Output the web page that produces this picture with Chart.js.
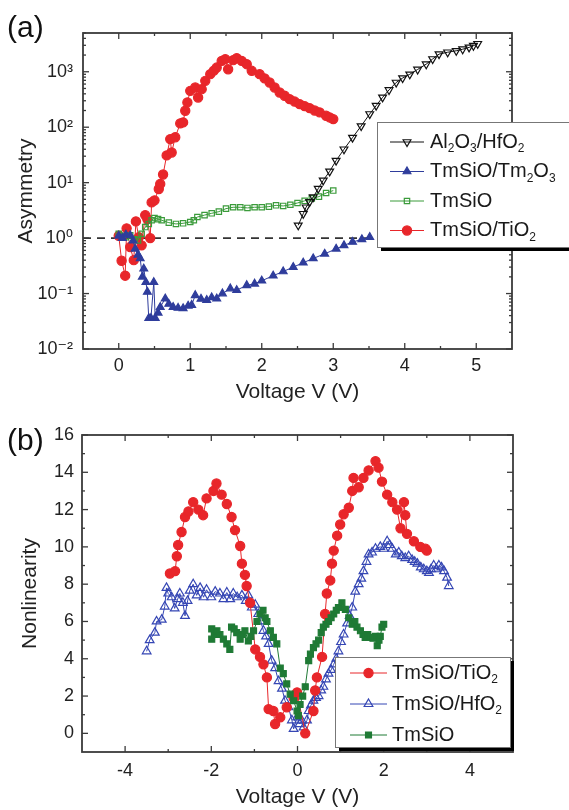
<!DOCTYPE html>
<html>
<head>
<meta charset="utf-8">
<script src="https://cdn.jsdelivr.net/npm/chart.js@4.4.1/dist/chart.umd.min.js"></script>
<style>
  html, body { margin: 0; padding: 0; background: #fff; }
  #wrap { position: relative; width: 569px; height: 810px; overflow: hidden; }
  .panel { position: absolute; left: 0; width: 569px; height: 405px; }
  .tag { position: absolute; left: 7px; font: 30px 'Liberation Sans', Arial, sans-serif; color: #111; }
</style>
</head>
<body>
<div id="wrap">
  <div class="panel" style="top:0"><canvas id="chartA"></canvas></div>
  <div class="panel" style="top:405px"><canvas id="chartB"></canvas></div>
  <div class="tag" style="top:10px">(a)</div>
  <div class="tag" style="top:423px">(b)</div>
</div>
<script>
const FONT = "'Liberation Sans', 'DejaVu Sans', Arial, sans-serif";

// ---- (a) asymmetry vs voltage ----
const labelsA = ['Al₂O₃/HfO₂', 'TmSiO/Tm₂O₃', 'TmSiO', 'TmSiO/TiO₂'];

const voltAl = [2.51, 2.58, 2.62, 2.67, 2.72, 2.79, 2.86, 2.95, 3.04, 3.15, 3.27, 3.39, 3.51, 3.6, 3.69, 3.78, 3.88, 3.97, 4.07, 4.18, 4.3, 4.39, 4.48, 4.6, 4.72, 4.81, 4.9, 4.96, 5.02];
const asymAl = [1.7, 2.75, 3.6, 4.5, 5.5, 7.8, 11, 16, 25, 40, 65, 105, 173, 245, 345, 470, 640, 770, 900, 1100, 1370, 1700, 2080, 2250, 2390, 2550, 2750, 2950, 3200];

const voltTm = [0, 0.05, 0.1, 0.16, 0.2, 0.23, 0.27, 0.30, 0.33, 0.35, 0.38, 0.40, 0.42, 0.45, 0.49, 0.51, 0.55, 0.58, 0.65, 0.7, 0.76, 0.83, 0.90, 0.97, 1.02, 1.07, 1.15, 1.23, 1.30, 1.37, 1.45, 1.56, 1.65, 1.79, 1.9, 2.0, 2.16, 2.3, 2.44, 2.58, 2.72, 2.88, 3.04, 3.15, 3.27, 3.4, 3.51];
const asymTm = [1.1, 1.0, 1.15, 1.12, 0.9, 0.64, 0.5, 0.43, 0.2, 0.28, 0.16, 0.107, 0.036, 0.036, 0.16, 0.036, 0.045, 0.057, 0.081, 0.065, 0.057, 0.055, 0.054, 0.06, 0.062, 0.093, 0.08, 0.076, 0.085, 0.081, 0.1, 0.123, 0.115, 0.141, 0.15, 0.17, 0.21, 0.25, 0.30, 0.36, 0.43, 0.52, 0.64, 0.74, 0.85, 0.95, 1.04];

const voltSiA = [0, 0.05, 0.1, 0.16, 0.22, 0.27, 0.32, 0.37, 0.42, 0.46, 0.5, 0.55, 0.6, 0.7, 0.8, 0.9, 1.0, 1.05, 1.1, 1.2, 1.3, 1.4, 1.5, 1.6, 1.7, 1.8, 1.9, 2.0, 2.1, 2.2, 2.3, 2.4, 2.5, 2.6, 2.7, 2.8, 2.9, 3.0];
const asymSiA = [1.2, 1.1, 1.04, 1.12, 0.95, 0.91, 1.2, 1.58, 1.8, 2.1, 2.3, 2.2, 2.1, 1.9, 1.8, 1.85, 1.95, 2.1, 2.4, 2.6, 2.8, 3.0, 3.4, 3.6, 3.6, 3.5, 3.6, 3.6, 3.7, 3.9, 3.8, 4.0, 4.3, 4.7, 5.2, 5.6, 6.5, 7.2];

const voltTiA = [0, 0.04, 0.09, 0.11, 0.16, 0.21, 0.24, 0.28, 0.32, 0.37, 0.40, 0.44, 0.46, 0.50, 0.56, 0.58, 0.62, 0.67, 0.72, 0.74, 0.79, 0.86, 0.90, 0.93, 0.96, 1.0, 1.07, 1.11, 1.16, 1.21, 1.28, 1.33, 1.37, 1.44, 1.49, 1.53, 1.60, 1.65, 1.72, 1.79, 1.86, 1.97, 2.04, 2.11, 2.18, 2.25, 2.32, 2.39, 2.46, 2.53, 2.60, 2.67, 2.74, 2.81, 2.90, 2.95, 3.0];
const asymTiA = [1.1, 0.39, 0.21, 1.5, 0.69, 0.40, 2.0, 1.04, 0.74, 2.6, 2.2, 1.0, 4.4, 4.8, 7.7, 9.5, 14, 31, 61, 35, 66, 117, 122, 198, 280, 453, 520, 344, 486, 686, 905, 1050, 1190, 1570, 1690, 1110, 1620, 1760, 1570, 1370, 1040, 905, 760, 640, 520, 423, 370, 321, 290, 261, 240, 221, 200, 185, 161, 150, 140];

const unityLine = [-0.5, 5.5];
const ticksAX = [0, 1, 2, 3, 4, 5];
const ticksAY = [0.01, 0.1, 1, 10, 100, 1000];

// ---- (b) nonlinearity vs voltage ----
const labelsB = ['TmSiO/TiO₂', 'TmSiO/HfO₂', 'TmSiO'];

const voltTiB = [-2.96, -2.84, -2.8, -2.77, -2.69, -2.61, -2.53, -2.42, -2.3, -2.19, -2.11, -1.95, -1.88, -1.76, -1.64, -1.53, -1.45, -1.33, -1.29, -1.22, -1.18, -1.1, -0.98, -0.87, -0.79, -0.71, -0.67, -0.56, -0.52, -0.4, -0.25, -0.09, -0.01,
  0.18, 0.37, 0.41, 0.45, 0.57, 0.64, 0.68, 0.76, 0.8, 0.84, 0.92, 0.99, 1.07, 1.19, 1.27, 1.3, 1.42, 1.53, 1.65, 1.81, 1.88, 1.96, 2.08, 2.2, 2.31, 2.39, 2.47, 2.5, 2.54, 2.7, 2.85, 2.97, 3.0];
const nonlTiB = [8.57, 8.7, 9.5, 10.1, 10.8, 11.6, 11.9, 12.4, 12.0, 11.7, 12.6, 13.0, 13.4, 12.8, 12.3, 11.6, 10.9, 10.05, 9.1, 8.5, 7.9, 7.0, 4.5, 4.1, 3.7, 3.0, 1.3, 1.2, 0.5, 0.86, 1.4, 1.9, 2.2,
  0, 1.2, 2.3, 3.0, 4.1, 6.4, 7.5, 8.2, 9.1, 9.8, 10.6, 11.2, 11.75, 12.1, 13.0, 13.7, 13.2, 13.7, 14.1, 14.6, 14.25, 13.5, 12.8, 12.4, 12.0, 11.0, 12.4, 11.7, 10.7, 10.3, 10.0, 9.9, 9.8];

const voltHfB = [-3.5, -3.43, -3.31, -3.27, -3.15, -3.08, -3.04, -3.0, -2.92, -2.85, -2.78, -2.73, -2.66, -2.61, -2.55, -2.5, -2.42, -2.34, -2.26, -2.18, -2.11, -2.0, -1.91, -1.8, -1.72, -1.64, -1.56, -1.49, -1.4, -1.29, -1.2, -1.14, -1.06, -0.98, -0.91, -0.85, -0.79, -0.73, -0.67, -0.6, -0.52, -0.44, -0.36, -0.29, -0.21, -0.13, -0.09, -0.01,
  0.05, 0.1, 0.14, 0.22, 0.26, 0.31, 0.37, 0.43, 0.49, 0.55, 0.6, 0.66, 0.72, 0.78, 0.84, 0.9, 0.95, 1.01, 1.07, 1.15, 1.21, 1.27, 1.34, 1.42, 1.48, 1.53, 1.6, 1.65, 1.73, 1.81, 1.92, 2.0, 2.08, 2.14, 2.2, 2.28, 2.35, 2.42, 2.5, 2.58, 2.66, 2.72, 2.78, 2.86, 2.93, 3.0, 3.05, 3.1, 3.16, 3.22, 3.28, 3.34, 3.4, 3.47, 3.51];
const nonlHfB = [4.4, 5.0, 5.4, 6.0, 6.1, 6.8, 7.8, 7.5, 7.3, 6.7, 7.2, 7.5, 7.0, 6.3, 7.1, 7.65, 8.0, 7.4, 7.8, 7.3, 7.7, 7.3, 7.6, 7.5, 7.2, 7.55, 7.2, 7.5, 7.3, 7.4, 7.1, 7.4, 6.75, 6.9, 6.4, 6.0, 5.5, 5.2, 4.8, 3.9, 3.5, 2.8, 2.4, 1.75, 1.4, 0.7, 0.24, 0.86,
  0.5, 0.68, 0.32, 0.7, 1.2, 1.5, 1.75, 1.9, 2.0, 2.3, 2.5, 2.9, 3.2, 3.4, 3.7, 4.0, 4.4, 4.9, 5.3, 5.9, 6.3, 6.75, 7.6, 8.0, 8.3, 8.7, 9.2, 9.6, 9.7, 9.9, 10.0, 9.9, 10.3, 10.1, 9.9, 9.6, 9.7, 9.5, 9.4, 9.5, 9.3, 9.2, 9.1, 8.9, 8.8, 8.7, 8.6, 8.8, 9.0, 8.8, 9.0, 8.9, 8.7, 8.35, 7.9];

const voltSiB = [-1.99, -1.99, -1.93, -1.87, -1.8, -1.72, -1.64, -1.57, -1.53, -1.47, -1.41, -1.33, -1.27, -1.22, -1.14, -1.08, -1.02, -0.94, -0.87, -0.8, -0.75, -0.71, -0.63, -0.56, -0.48, -0.4, -0.33, -0.25, -0.17, -0.09, -0.01,
  0.02, 0.06, 0.12, 0.18, 0.26, 0.3, 0.37, 0.43, 0.49, 0.55, 0.6, 0.66, 0.72, 0.78, 0.84, 0.9, 0.95, 1.03, 1.11, 1.19, 1.27, 1.33, 1.38, 1.46, 1.52, 1.57, 1.63, 1.69, 1.75, 1.81, 1.85, 1.89, 1.92, 1.96, 2.0];
const nonlSiB = [5.6, 5.05, 5.3, 5.5, 5.3, 5.05, 4.8, 4.5, 5.7, 5.6, 5.4, 5.05, 5.3, 5.5, 4.95, 5.2, 5.5, 6.0, 6.4, 6.6, 6.2, 6.0, 5.5, 5.15, 4.8, 3.5, 3.2, 2.65, 2.1, 1.75, 1.2,
  0.95, 1.55, 2.0, 2.5, 3.9, 4.25, 4.6, 4.8, 5.0, 5.4, 5.7, 5.85, 6.0, 6.2, 6.4, 6.6, 6.75, 7.0, 6.65, 6.2, 5.85, 6.0, 5.7, 5.5, 5.3, 5.15, 5.3, 5.15, 5.1, 5.2, 4.7, 5.0, 5.2, 5.7, 5.85];

const ticksBX = [-4, -2, 0, 2, 4];
const ticksBY = [0, 2, 4, 6, 8, 10, 12, 14, 16];

// ---------------------------------------------------------------
function pts(xs, ys) {
    const n = Math.min(xs.length, ys.length);
    const out = [];
    for (let i = 0; i < n; i++) out.push({ x: xs[i], y: ys[i] });
    return out;
}

const SUP = { '-': '⁻', '0': '⁰', '1': '¹', '2': '²', '3': '³' };
function pow10Label(v) {
    const e = Math.round(Math.log10(v));
    return '10' + String(e).split('').map(c => SUP[c]).join('');
}

// text with unicode subscript digits drawn as small lowered digits
const SUB = '₀₁₂₃₄₅₆₇₈₉';
function drawRich(ctx, text, x, y, size) {
    let cx = x, buf = '';
    const flush = () => {
        if (!buf) return;
        ctx.font = size + 'px ' + FONT;
        ctx.fillText(buf, cx, y);
        cx += ctx.measureText(buf).width;
        buf = '';
    };
    for (const ch of text) {
        const k = SUB.indexOf(ch);
        if (k >= 0) {
            flush();
            const s = Math.round(size * 0.62);
            ctx.font = s + 'px ' + FONT;
            ctx.fillText(String(k), cx, y + size * 0.34);
            cx += ctx.measureText(String(k)).width;
        } else {
            buf += ch;
        }
    }
    flush();
}

function midpoints(arr) {
    const m = [];
    for (let i = 1; i < arr.length; i++) m.push((arr[i - 1] + arr[i]) / 2);
    return m;
}

function logMinors(majors, max) {
    const m = [];
    majors.forEach(v => {
        for (let k = 2; k <= 9; k++) if (v * k <= max) m.push(v * k);
    });
    return m;
}

// box with inward ticks on all four sides (tick lists kept in the closure)
function makeFrame(xMajor, xMinor, yMajor, yMinor) {
    return {
        id: 'frame',
        afterDatasetsDraw(chart) {
            const { ctx, chartArea: a } = chart;
            const sx = chart.scales.x, sy = chart.scales.y;
            ctx.save();
            ctx.strokeStyle = '#3a3a3a';
            const seg = (x0, y0, x1, y1) => { ctx.beginPath(); ctx.moveTo(x0, y0); ctx.lineTo(x1, y1); ctx.stroke(); };
            ctx.lineWidth = 1.3;
            const xt = (vals, len) => vals.forEach(v => {
                const p = sx.getPixelForValue(v);
                seg(p, a.bottom, p, a.bottom - len);
                seg(p, a.top, p, a.top + len);
            });
            const yt = (vals, len) => vals.forEach(v => {
                const p = sy.getPixelForValue(v);
                seg(a.left, p, a.left + len, p);
                seg(a.right, p, a.right - len, p);
            });
            xt(xMajor, 6); xt(xMinor, 3);
            yt(yMajor, 6); yt(yMinor, 3);
            ctx.lineWidth = 1.8;
            ctx.strokeRect(a.left, a.top, a.right - a.left, a.bottom - a.top);
            ctx.restore();
        }
    };
}

// boxed legend with drop shadow
const boxLegendPlugin = {
    id: 'boxLegend',
    afterDraw(chart, args, o) {
        const ctx = chart.ctx;
        ctx.save();
        ctx.fillStyle = '#000';
        ctx.fillRect(o.x + o.shadow, o.y + o.shadow, o.w, o.h);
        ctx.fillStyle = '#fff';
        ctx.fillRect(o.x, o.y, o.w, o.h);
        ctx.strokeStyle = '#777';
        ctx.lineWidth = 1;
        ctx.strokeRect(o.x + 0.5, o.y + 0.5, o.w, o.h);
        const items = chart.data.datasets.filter(d => d.label);
        items.forEach((ds, i) => {
            const ry = o.y + o.firstRow + i * o.rowGap;
            ctx.strokeStyle = ds.borderColor;
            ctx.lineWidth = 1;
            ctx.beginPath();
            ctx.moveTo(o.x + o.lineX0, ry);
            ctx.lineTo(o.x + o.lineX1, ry);
            ctx.stroke();
            ctx.fillStyle = ds.pointBackgroundColor;
            ctx.strokeStyle = ds.pointBorderColor;
            ctx.lineWidth = ds.pointBorderWidth;
            Chart.helpers.drawPoint(ctx, {
                pointStyle: ds.pointStyle,
                rotation: ds.pointRotation || 0,
                radius: ds.pointRadius,
                borderWidth: ds.pointBorderWidth
            }, o.x + (o.lineX0 + o.lineX1) / 2, ry);
            ctx.fillStyle = '#1a1a1a';
            ctx.textBaseline = 'middle';
            ctx.textAlign = 'left';
            drawRich(ctx, ds.label, o.x + o.textX, ry, o.fontSize);
        });
        ctx.restore();
    }
};

function series(label, xs, ys, color, style, opts) {
    return Object.assign({
        label: label,
        data: pts(xs, ys),
        showLine: true,
        borderColor: color,
        borderWidth: 1,
        pointStyle: style,
        pointRadius: 4,
        pointBorderColor: color,
        pointBackgroundColor: color,
        pointBorderWidth: 1.2,
        tension: 0
    }, opts || {});
}

const tickFont = { family: FONT, size: 18 };
const titleFont = { family: FONT, size: 21 };
const noGrid = { display: false, drawTicks: false, tickLength: 0 };

// ---- chart (a) ----
new Chart(document.getElementById('chartA'), {
    type: 'scatter',
    data: {
        datasets: [
            series(labelsA[0], voltAl, asymAl, '#111111', 'triangle', { pointRotation: 180, pointBackgroundColor: 'rgba(255,255,255,0)', pointRadius: 4.5, order: 1 }),
            series(labelsA[1], voltTm, asymTm, '#2f3d9c', 'triangle', { pointRadius: 4.5, order: 2 }),
            series(labelsA[2], voltSiA, asymSiA, '#3b9b3b', 'rect', { pointBackgroundColor: 'rgba(255,255,255,0)', pointRadius: 3.8, order: 3 }),
            series(labelsA[3], voltTiA, asymTiA, '#e8262a', 'circle', { pointRadius: 4.6, order: 4 }),
            {
                data: pts(unityLine, [1, 1]),
                showLine: true,
                borderColor: '#333333',
                borderWidth: 1.6,
                borderDash: [8, 6],
                pointRadius: 0,
                order: 5
            }
        ]
    },
    options: {
        responsive: true,
        maintainAspectRatio: false,
        animation: false,
        events: [],
        layout: { padding: { top: 33, right: 57, left: 0, bottom: 0 } },
        plugins: {
            legend: { display: false },
            tooltip: { enabled: false },
            boxLegend: {
                x: 377, y: 122, w: 200, h: 125, shadow: 4,
                firstRow: 20, rowGap: 29.5,
                lineX0: 13, lineX1: 47, textX: 53, fontSize: 20
            }
        },
        scales: {
            x: {
                type: 'linear', min: -0.5, max: 5.5,
                grid: noGrid,
                border: { display: false },
                afterBuildTicks: s => { s.ticks = ticksAX.map(v => ({ value: v })); },
                afterFit: s => { s.height = 56; },
                ticks: { font: tickFont, color: '#222', padding: 6, maxRotation: 0 },
                title: { display: true, text: 'Voltage V (V)', font: titleFont, color: '#222', padding: { top: 0, bottom: 0 } }
            },
            y: {
                type: 'logarithmic', min: 0.01, max: 5000,
                grid: noGrid,
                border: { display: false },
                afterBuildTicks: s => { s.ticks = ticksAY.map(v => ({ value: v })); },
                afterFit: s => { s.width = 83; },
                ticks: { font: tickFont, color: '#222', padding: 10, callback: v => pow10Label(v) },
                title: { display: true, text: 'Asymmetry', font: titleFont, color: '#222', padding: { top: 14, bottom: 0 } }
            }
        }
    },
    plugins: [makeFrame(ticksAX, midpoints(ticksAX), ticksAY, logMinors(ticksAY, 5000)), boxLegendPlugin]
});

// ---- chart (b) ----
new Chart(document.getElementById('chartB'), {
    type: 'scatter',
    data: {
        datasets: [
            series(labelsB[0], voltTiB, nonlTiB, '#e8262a', 'circle', { pointRadius: 4.6, order: 2 }),
            series(labelsB[1], voltHfB, nonlHfB, '#3546b4', 'triangle', { pointBackgroundColor: 'rgba(255,255,255,0)', pointRadius: 5, order: 3 }),
            series(labelsB[2], voltSiB, nonlSiB, '#1f7a35', 'rect', { pointRadius: 4.2, order: 1 })
        ]
    },
    options: {
        responsive: true,
        maintainAspectRatio: false,
        animation: false,
        events: [],
        layout: { padding: { top: 30, right: 56, left: 0, bottom: 0 } },
        plugins: {
            legend: { display: false },
            tooltip: { enabled: false },
            boxLegend: {
                x: 335, y: 252, w: 175, h: 90, shadow: 4,
                firstRow: 16, rowGap: 31,
                lineX0: 15, lineX1: 52, textX: 57, fontSize: 20
            }
        },
        scales: {
            x: {
                type: 'linear', min: -5, max: 5,
                grid: noGrid,
                border: { display: false },
                afterBuildTicks: s => { s.ticks = ticksBX.map(v => ({ value: v })); },
                afterFit: s => { s.height = 58; },
                ticks: { font: tickFont, color: '#222', padding: 8, maxRotation: 0 },
                title: { display: true, text: 'Voltage V (V)', font: titleFont, color: '#222', padding: { top: 0, bottom: 0 } }
            },
            y: {
                type: 'linear', min: -1, max: 16,
                grid: noGrid,
                border: { display: false },
                afterBuildTicks: s => { s.ticks = ticksBY.map(v => ({ value: v })); },
                afterFit: s => { s.width = 82; },
                ticks: { font: tickFont, color: '#222', padding: 8 },
                title: { display: true, text: 'Nonlinearity', font: titleFont, color: '#222', padding: { top: 18, bottom: 0 } }
            }
        }
    },
    plugins: [makeFrame(ticksBX, midpoints(ticksBX), ticksBY, midpoints(ticksBY)), boxLegendPlugin]
});
</script>
</body>
</html>
